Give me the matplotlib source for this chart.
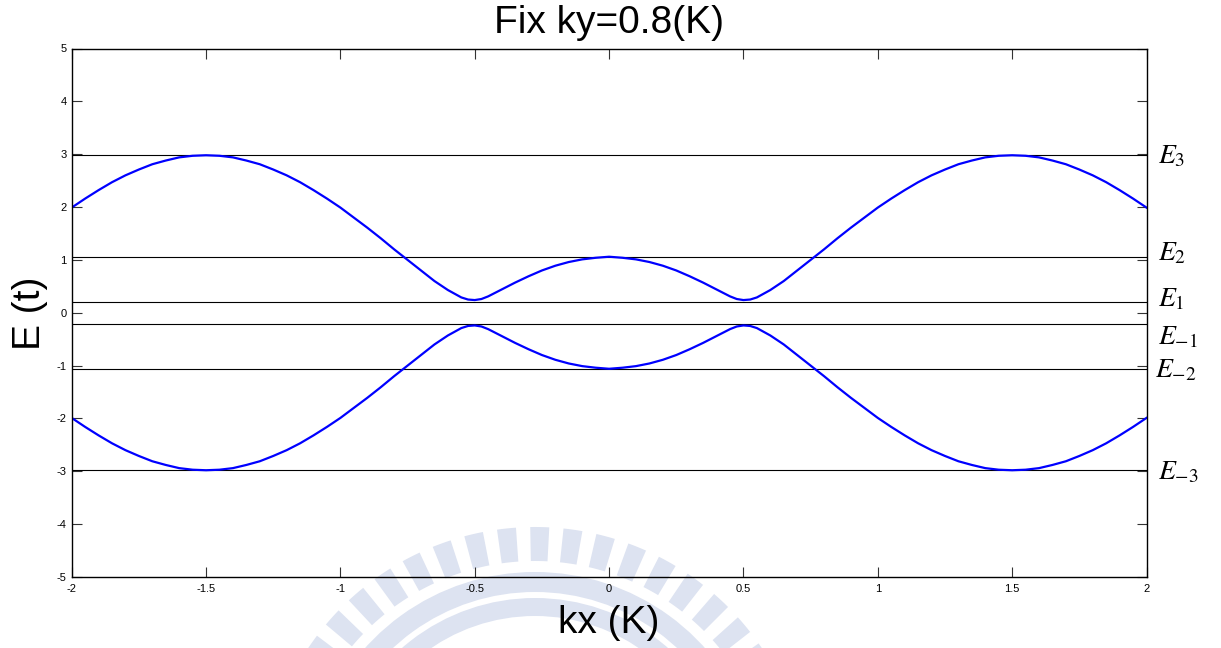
import numpy as np
import matplotlib
matplotlib.use("Agg")
import matplotlib.pyplot as plt
from matplotlib.patches import Wedge

plt.rcParams['font.family'] = ['Liberation Sans', 'DejaVu Sans']
plt.rcParams['mathtext.fontset'] = 'stix'

# ---- data -------------------------------------------------------------
kx = [-2.0, -1.95, -1.9, -1.85, -1.8, -1.75, -1.7, -1.65, -1.6, -1.55,
      -1.5, -1.45, -1.4, -1.35, -1.3, -1.25, -1.2, -1.15, -1.1, -1.05,
      -1.0, -0.95, -0.9, -0.85, -0.8, -0.75, -0.7, -0.65, -0.6, -0.55,
      -0.525, -0.5, -0.475, -0.45, -0.4, -0.35, -0.3, -0.25, -0.2, -0.15,
      -0.1, -0.05, 0.0, 0.05, 0.1, 0.15, 0.2, 0.25, 0.3, 0.35,
      0.4, 0.45, 0.475, 0.5, 0.525, 0.55, 0.6, 0.65, 0.7, 0.75,
      0.8, 0.85, 0.9, 0.95, 1.0, 1.05, 1.1, 1.15, 1.2, 1.25,
      1.3, 1.35, 1.4, 1.45, 1.5, 1.55, 1.6, 1.65, 1.7, 1.75,
      1.8, 1.85, 1.9, 1.95, 2.0]

band_upper = [1.99, 2.16, 2.32, 2.47, 2.60, 2.71, 2.81, 2.88, 2.94, 2.97,
              2.98, 2.97, 2.94, 2.88, 2.81, 2.71, 2.60, 2.47, 2.32, 2.16,
              1.99, 1.80, 1.61, 1.41, 1.20, 1.00, 0.80, 0.60, 0.43, 0.29,
              0.25, 0.24, 0.26, 0.31, 0.44, 0.57, 0.69, 0.80, 0.89, 0.96,
              1.01, 1.04, 1.06, 1.04, 1.01, 0.96, 0.89, 0.80, 0.69, 0.57,
              0.44, 0.31, 0.26, 0.24, 0.25, 0.29, 0.43, 0.60, 0.80, 1.00,
              1.20, 1.41, 1.61, 1.80, 1.99, 2.16, 2.32, 2.47, 2.60, 2.71,
              2.81, 2.88, 2.94, 2.97, 2.98, 2.97, 2.94, 2.88, 2.81, 2.71,
              2.60, 2.47, 2.32, 2.16, 1.99]

band_lower = [-1.99, -2.16, -2.32, -2.47, -2.60, -2.71, -2.81, -2.88, -2.94, -2.97,
              -2.98, -2.97, -2.94, -2.88, -2.81, -2.71, -2.60, -2.47, -2.32, -2.16,
              -1.99, -1.80, -1.61, -1.41, -1.20, -1.00, -0.80, -0.60, -0.43, -0.29,
              -0.25, -0.24, -0.26, -0.31, -0.44, -0.57, -0.69, -0.80, -0.89, -0.96,
              -1.01, -1.04, -1.06, -1.04, -1.01, -0.96, -0.89, -0.80, -0.69, -0.57,
              -0.44, -0.31, -0.26, -0.24, -0.25, -0.29, -0.43, -0.60, -0.80, -1.00,
              -1.20, -1.41, -1.61, -1.80, -1.99, -2.16, -2.32, -2.47, -2.60, -2.71,
              -2.81, -2.88, -2.94, -2.97, -2.98, -2.97, -2.94, -2.88, -2.81, -2.71,
              -2.60, -2.47, -2.32, -2.16, -1.99]

level_values = [2.98, 1.06, 0.21, -0.21, -1.06, -2.98]
level_labels = [r'$E_{3}$', r'$E_{2}$', r'$E_{1}$', r'$E_{-1}$', r'$E_{-2}$', r'$E_{-3}$']
# baseline heights of the level labels beside the right spine
label_y = [2.83, 1.00, 0.12, -0.60, -1.23, -3.16]
label_x = [2.043, 2.043, 2.043, 2.043, 2.032, 2.043]

xticks = [-2, -1.5, -1, -0.5, 0, 0.5, 1, 1.5, 2]
xtick_labels = ['-2', '-1.5', '-1', '-0.5', '0', '0.5', '1', '1.5', '2']
yticks = [-5, -4, -3, -2, -1, 0, 1, 2, 3, 4, 5]
ytick_labels = ['-5', '-4', '-3', '-2', '-1', '0', '1', '2', '3', '4', '5']

# ---- figure -----------------------------------------------------------
W, H = 1221, 648
fig = plt.figure(figsize=(W / 100, H / 100), dpi=100)
fig.patch.set_facecolor('white')

# faint emblem in the background (pixel coordinates)
bg = fig.add_axes([0, 0, 1, 1], zorder=-1)
bg.set_xlim(0, W)
bg.set_ylim(H, 0)
bg.axis('off')
mark = '#dde3f1'
cx, cy = 535, 800
for a in np.arange(206, 334, 7.0):
    bg.add_patch(Wedge((cx, cy), 273, a, a + 4.0, width=34, color=mark, lw=0))
bg.add_patch(Wedge((cx, cy), 228, 198, 342, width=20, color=mark, lw=0))
bg.add_patch(Wedge((cx, cy), 202, 194, 346, width=18, color=mark, lw=0))

ax = fig.add_axes([71.7 / W, 1 - 577 / H, (1146.5 - 71.7) / W, (577 - 48.5) / H])
ax.set_facecolor('none')

for lv in level_values:
    ax.axhline(lv, color='black', lw=0.8, zorder=1)

ax.plot(kx, band_upper, color='#0000ff', lw=1.6, zorder=2)
ax.plot(kx, band_lower, color='#0000ff', lw=1.6, zorder=2)

for txt, xx, yy in zip(level_labels, label_x, label_y):
    ax.text(xx, yy, txt, fontsize=20, ha='left', va='baseline', clip_on=False)

ax.set_xlim(-2, 2)
ax.set_ylim(-5, 5)
ax.set_xticks(xticks)
ax.set_xticklabels(xtick_labels)
ax.set_yticks(yticks)
ax.set_yticklabels(ytick_labels)
ax.tick_params(direction='in', length=7, width=0.8, color='#333333',
               top=True, right=True, labelsize=8)
ax.tick_params(axis='x', pad=5)
ax.tick_params(axis='y', pad=3.5)
for s in ax.spines.values():
    s.set_linewidth(1.0)

ax.set_title('Fix ky=0.8(K)', fontsize=28, pad=11)
fig.text(609 / W, 1 - 633 / H, 'kx (K)', fontsize=28, ha='center', va='baseline')
fig.text(30 / W, 1 - 313 / H, 'E (t)', fontsize=28, rotation=90,
         ha='center', va='center')

fig.savefig('out.png', dpi=100)
